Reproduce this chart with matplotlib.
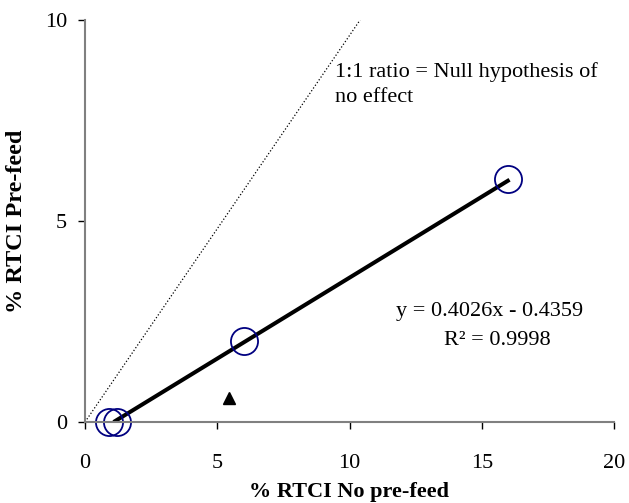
import matplotlib.pyplot as plt

plt.rcParams['font.family'] = ['Liberation Serif', 'DejaVu Serif']

# donnees
x_no_prefeed = [0.9, 1.2, 6.0, 16.0]
y_prefeed = [0.0, 0.0, 2.02, 6.05]
x_tri = [5.45]
y_tri = [0.6]
slope = 0.4026
intercept = -0.4359
fit_x = [1.08, 16.05]
ratio_x = [0, 10.4]
ratio_y = [0, 10]
xticks = [0, 5, 10, 15, 20]
yticks = [0, 5, 10]

fig = plt.figure(figsize=(6.29, 5.03), dpi=100)
ax = fig.add_axes([85/629, 1 - 422/503, (614-85)/629, (422-20)/503])

# ligne 1:1
ax.plot(ratio_x, ratio_y, color='black', linestyle=':', linewidth=0.9)

# droite de regression
fit_y = [slope * v + intercept for v in fit_x]
ax.plot(fit_x, fit_y, color='black', linewidth=2.9, solid_capstyle='butt')

# points
ax.plot(x_no_prefeed, y_prefeed, 'o', markersize=19.5, markerfacecolor='none',
        markeredgecolor='#000080', markeredgewidth=1.3, clip_on=False)
ax.plot(x_tri, y_tri, '^', markersize=9, color='black')

ax.set_xlim(0, 20)
ax.set_ylim(0, 10)
ax.set_xticks(xticks)
ax.set_yticks(yticks)
for s in ['top', 'right']:
    ax.spines[s].set_visible(False)
for s in ['left', 'bottom']:
    ax.spines[s].set_color('#808080')
    ax.spines[s].set_linewidth(1.5)
ax.tick_params(direction='out', length=5, width=1, color='black', labelsize=16)
ax.tick_params(axis='x', pad=18)
ax.tick_params(axis='y', pad=8)

fig.text(349/629, 1 - 492/503, '% RTCI No pre-feed', fontsize=16, fontweight='bold',
         ha='center', va='center')
fig.text(17/629, 1 - 221/503, '% RTCI Pre-feed', fontsize=17.5, fontweight='bold',
         ha='center', va='center', rotation=90)

ax.text(9.45, 8.95, '1:1 ratio = Null hypothesis of\nno effect', fontsize=16,
        va='top', ha='left', linespacing=1.45)
ax.text(15.3, 2.75, 'y = 0.4026x - 0.4359', fontsize=16, ha='center', va='center')
ax.text(15.6, 2.03, 'R² = 0.9998', fontsize=16, ha='center', va='center')

fig.savefig('out.png', dpi=100)
